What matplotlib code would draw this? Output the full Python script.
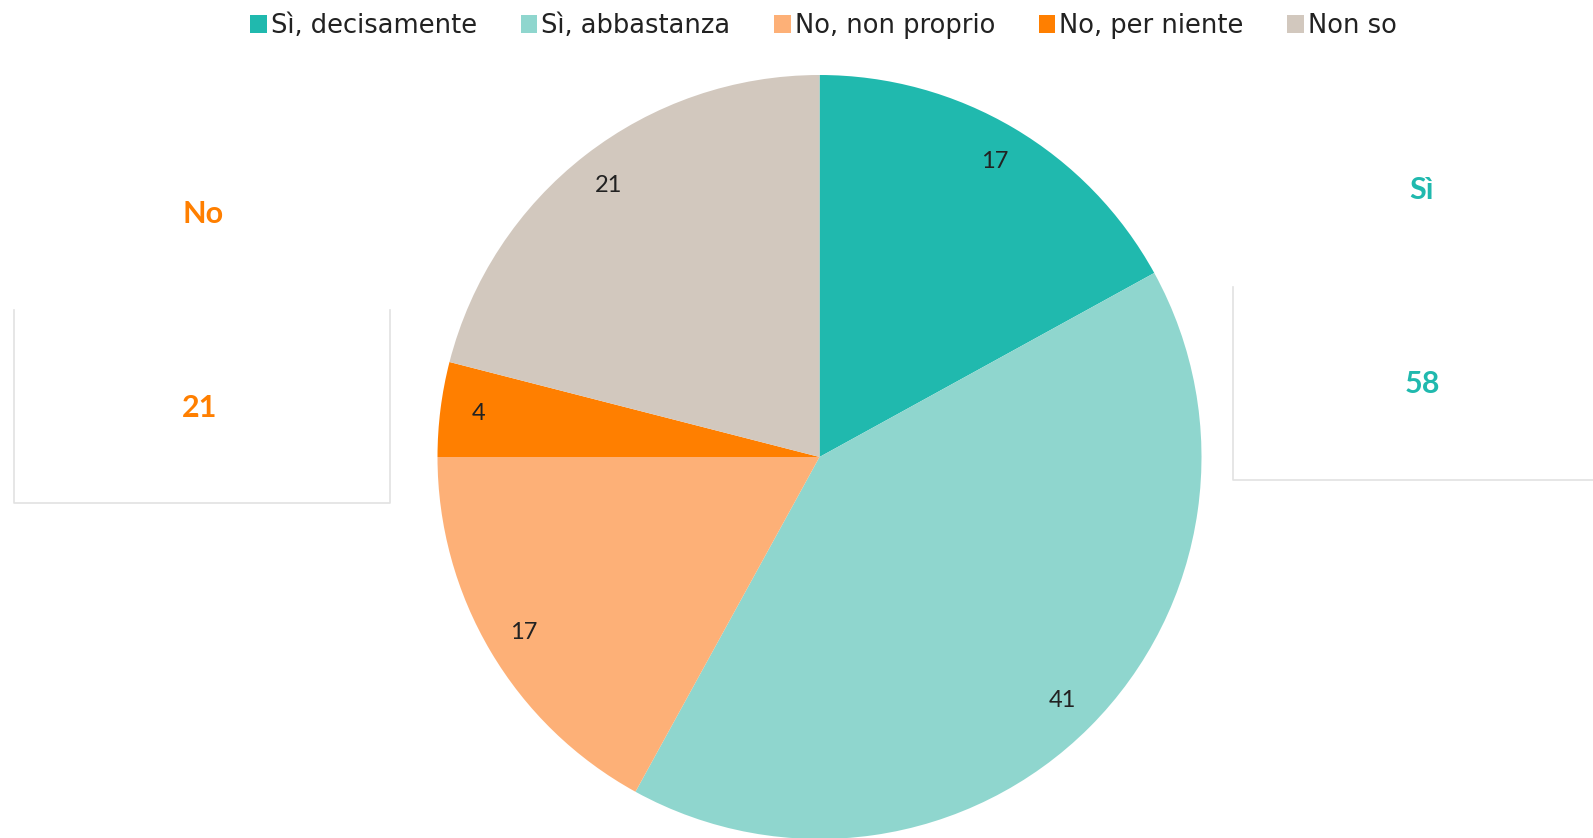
import matplotlib.pyplot as plt
from matplotlib.lines import Line2D
import numpy as np

plt.rcParams['font.family'] = ['Lato', 'DejaVu Sans']

## Donnees
categories = ['Sì, decisamente', 'Sì, abbastanza', 'No, non proprio', 'No, per niente', 'Non so']
valori = [17, 41, 17, 4, 21]
colori = ['#20B9AE', '#8FD6CE', '#FDB077', '#FF7F00', '#D2C8BE']
totale_si = 58
totale_no = 21

W, H = 1593, 838
fig = plt.figure(figsize=(W / 100, H / 100), dpi=100)
ax = fig.add_axes([0, 0, 1, 1])

somma = sum(valori)
wedges, texts, autotexts = ax.pie(
    valori, colors=colori, startangle=90, counterclock=False,
    center=(819.5, H - 457), radius=382, frame=True,
    autopct=lambda p: '{:.0f}'.format(p * somma / 100), pctdistance=0.9,
    wedgeprops=dict(linewidth=0),
    textprops=dict(fontsize=17, color='#222222'))
ax.set_xlim(0, W)
ax.set_ylim(0, H)
ax.set_aspect('equal')
ax.axis('off')

# riquadri laterali
grigio = '#E2E2E2'
fig.add_artist(Line2D([14, 14, 390, 390], [H - 310, H - 503, H - 503, H - 310],
                      transform=None, color=grigio, lw=1.2))
fig.add_artist(Line2D([1233, 1233, W], [H - 287, H - 480, H - 480],
                      transform=None, color=grigio, lw=1.2))

ax.text(203, H - 214, 'No', color='#FF7F00', fontsize=22, fontweight='bold', ha='center', va='center')
ax.text(200, H - 408, str(totale_no), color='#FF7F00', fontsize=22, fontweight='bold', ha='center', va='center')
ax.text(1422, H - 190, 'Sì', color='#20B9AE', fontsize=22, fontweight='bold', ha='center', va='center')
ax.text(1422, H - 384, str(totale_si), color='#20B9AE', fontsize=22, fontweight='bold', ha='center', va='center')

fig.legend(wedges, categories, loc='upper center', bbox_to_anchor=(0.517, 1.012), ncol=5,
           frameon=False, prop={'family': 'DejaVu Sans', 'size': 18.5},
           handlelength=0.65, handleheight=0.65,
           handletextpad=0.15, columnspacing=1.7, labelcolor='#222222')

fig.savefig('out.png', dpi=100)
